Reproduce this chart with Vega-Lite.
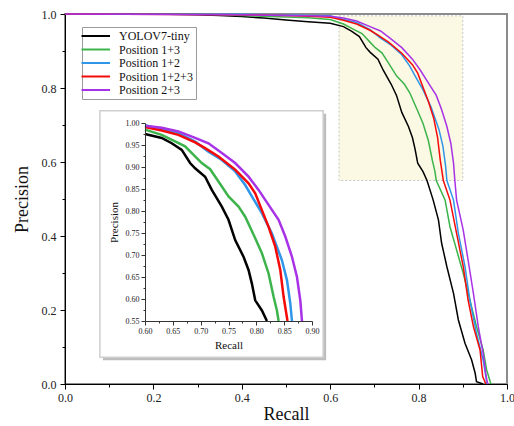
{
  "$schema": "https://vega.github.io/schema/vega-lite/v6.json",
  "width": 442,
  "height": 370,
  "autosize": {"type": "none"},
  "padding": {"left": 65, "top": 14, "right": 7, "bottom": 42},
  "background": "white",
  "config": {
    "view": {"stroke": "#8c8c8c", "strokeWidth": 2},
    "font": "Liberation Serif",
    "axis": {"labelFont": "Liberation Serif", "titleFont": "Liberation Serif", "titleFontWeight": "normal", "grid": false, "labelOverlap": false, "labelFlush": false}
  },
  "datasets": {
    "hl": [{"x1": 0.62, "x2": 0.9, "y1": 0.55, "y2": 0.995}],
    "box": [{"x1": 0.519, "x2": 0.92, "y1": 0.4675, "y2": 1.028}],
    "pr": [
      {"s": "YOLOV7-tiny", "r": 0, "p": 1}, {"s": "YOLOV7-tiny", "r": 0.2, "p": 1}, {"s": "YOLOV7-tiny", "r": 0.3, "p": 0.998}, {"s": "YOLOV7-tiny", "r": 0.35, "p": 0.996}, {"s": "YOLOV7-tiny", "r": 0.4, "p": 0.993}, {"s": "YOLOV7-tiny", "r": 0.45, "p": 0.989}, {"s": "YOLOV7-tiny", "r": 0.5, "p": 0.984}, {"s": "YOLOV7-tiny", "r": 0.55, "p": 0.979}, {"s": "YOLOV7-tiny", "r": 0.6, "p": 0.975}, {"s": "YOLOV7-tiny", "r": 0.63, "p": 0.966}, {"s": "YOLOV7-tiny", "r": 0.648, "p": 0.954}, {"s": "YOLOV7-tiny", "r": 0.666, "p": 0.939}, {"s": "YOLOV7-tiny", "r": 0.681, "p": 0.909}, {"s": "YOLOV7-tiny", "r": 0.69, "p": 0.897}, {"s": "YOLOV7-tiny", "r": 0.708, "p": 0.878}, {"s": "YOLOV7-tiny", "r": 0.72, "p": 0.848}, {"s": "YOLOV7-tiny", "r": 0.738, "p": 0.81}, {"s": "YOLOV7-tiny", "r": 0.75, "p": 0.78}, {"s": "YOLOV7-tiny", "r": 0.762, "p": 0.734}, {"s": "YOLOV7-tiny", "r": 0.777, "p": 0.696}, {"s": "YOLOV7-tiny", "r": 0.786, "p": 0.666}, {"s": "YOLOV7-tiny", "r": 0.792, "p": 0.635}, {"s": "YOLOV7-tiny", "r": 0.798, "p": 0.597}, {"s": "YOLOV7-tiny", "r": 0.81, "p": 0.574}, {"s": "YOLOV7-tiny", "r": 0.819, "p": 0.55}, {"s": "YOLOV7-tiny", "r": 0.833, "p": 0.497}, {"s": "YOLOV7-tiny", "r": 0.845, "p": 0.443}, {"s": "YOLOV7-tiny", "r": 0.852, "p": 0.381}, {"s": "YOLOV7-tiny", "r": 0.864, "p": 0.317}, {"s": "YOLOV7-tiny", "r": 0.879, "p": 0.245}, {"s": "YOLOV7-tiny", "r": 0.89, "p": 0.173}, {"s": "YOLOV7-tiny", "r": 0.905, "p": 0.11}, {"s": "YOLOV7-tiny", "r": 0.92, "p": 0.065}, {"s": "YOLOV7-tiny", "r": 0.928, "p": 0.029}, {"s": "YOLOV7-tiny", "r": 0.931, "p": 0.006}, {"s": "YOLOV7-tiny", "r": 0.946, "p": 0},
      {"s": "Position 1+3", "r": 0, "p": 1}, {"s": "Position 1+3", "r": 0.3, "p": 1}, {"s": "Position 1+3", "r": 0.4, "p": 0.996}, {"s": "Position 1+3", "r": 0.5, "p": 0.992}, {"s": "Position 1+3", "r": 0.55, "p": 0.99}, {"s": "Position 1+3", "r": 0.6, "p": 0.985}, {"s": "Position 1+3", "r": 0.63, "p": 0.973}, {"s": "Position 1+3", "r": 0.654, "p": 0.958}, {"s": "Position 1+3", "r": 0.672, "p": 0.947}, {"s": "Position 1+3", "r": 0.69, "p": 0.924}, {"s": "Position 1+3", "r": 0.702, "p": 0.909}, {"s": "Position 1+3", "r": 0.717, "p": 0.895}, {"s": "Position 1+3", "r": 0.732, "p": 0.867}, {"s": "Position 1+3", "r": 0.75, "p": 0.833}, {"s": "Position 1+3", "r": 0.768, "p": 0.81}, {"s": "Position 1+3", "r": 0.78, "p": 0.787}, {"s": "Position 1+3", "r": 0.798, "p": 0.738}, {"s": "Position 1+3", "r": 0.81, "p": 0.704}, {"s": "Position 1+3", "r": 0.822, "p": 0.658}, {"s": "Position 1+3", "r": 0.831, "p": 0.605}, {"s": "Position 1+3", "r": 0.837, "p": 0.574}, {"s": "Position 1+3", "r": 0.84, "p": 0.55}, {"s": "Position 1+3", "r": 0.86, "p": 0.497}, {"s": "Position 1+3", "r": 0.871, "p": 0.425}, {"s": "Position 1+3", "r": 0.886, "p": 0.362}, {"s": "Position 1+3", "r": 0.901, "p": 0.299}, {"s": "Position 1+3", "r": 0.916, "p": 0.227}, {"s": "Position 1+3", "r": 0.931, "p": 0.155}, {"s": "Position 1+3", "r": 0.946, "p": 0.092}, {"s": "Position 1+3", "r": 0.954, "p": 0.038}, {"s": "Position 1+3", "r": 0.962, "p": 0.006}, {"s": "Position 1+3", "r": 0.964, "p": 0},
      {"s": "Position 1+2", "r": 0, "p": 1}, {"s": "Position 1+2", "r": 0.4, "p": 0.999}, {"s": "Position 1+2", "r": 0.5, "p": 0.997}, {"s": "Position 1+2", "r": 0.55, "p": 0.996}, {"s": "Position 1+2", "r": 0.6, "p": 0.995}, {"s": "Position 1+2", "r": 0.63, "p": 0.985}, {"s": "Position 1+2", "r": 0.66, "p": 0.977}, {"s": "Position 1+2", "r": 0.69, "p": 0.958}, {"s": "Position 1+2", "r": 0.714, "p": 0.935}, {"s": "Position 1+2", "r": 0.738, "p": 0.916}, {"s": "Position 1+2", "r": 0.762, "p": 0.89}, {"s": "Position 1+2", "r": 0.78, "p": 0.859}, {"s": "Position 1+2", "r": 0.792, "p": 0.833}, {"s": "Position 1+2", "r": 0.81, "p": 0.795}, {"s": "Position 1+2", "r": 0.828, "p": 0.749}, {"s": "Position 1+2", "r": 0.846, "p": 0.688}, {"s": "Position 1+2", "r": 0.855, "p": 0.643}, {"s": "Position 1+2", "r": 0.861, "p": 0.59}, {"s": "Position 1+2", "r": 0.864, "p": 0.55}, {"s": "Position 1+2", "r": 0.879, "p": 0.497}, {"s": "Position 1+2", "r": 0.89, "p": 0.407}, {"s": "Position 1+2", "r": 0.905, "p": 0.317}, {"s": "Position 1+2", "r": 0.916, "p": 0.227}, {"s": "Position 1+2", "r": 0.931, "p": 0.137}, {"s": "Position 1+2", "r": 0.946, "p": 0.065}, {"s": "Position 1+2", "r": 0.954, "p": 0.006}, {"s": "Position 1+2", "r": 0.956, "p": 0},
      {"s": "Position 1+2+3", "r": 0, "p": 1}, {"s": "Position 1+2+3", "r": 0.4, "p": 0.998}, {"s": "Position 1+2+3", "r": 0.5, "p": 0.996}, {"s": "Position 1+2+3", "r": 0.55, "p": 0.994}, {"s": "Position 1+2+3", "r": 0.6, "p": 0.991}, {"s": "Position 1+2+3", "r": 0.63, "p": 0.983}, {"s": "Position 1+2+3", "r": 0.66, "p": 0.973}, {"s": "Position 1+2+3", "r": 0.69, "p": 0.956}, {"s": "Position 1+2+3", "r": 0.708, "p": 0.943}, {"s": "Position 1+2+3", "r": 0.732, "p": 0.924}, {"s": "Position 1+2+3", "r": 0.762, "p": 0.894}, {"s": "Position 1+2+3", "r": 0.786, "p": 0.863}, {"s": "Position 1+2+3", "r": 0.798, "p": 0.84}, {"s": "Position 1+2+3", "r": 0.81, "p": 0.802}, {"s": "Position 1+2+3", "r": 0.822, "p": 0.764}, {"s": "Position 1+2+3", "r": 0.834, "p": 0.719}, {"s": "Position 1+2+3", "r": 0.843, "p": 0.666}, {"s": "Position 1+2+3", "r": 0.849, "p": 0.605}, {"s": "Position 1+2+3", "r": 0.856, "p": 0.55}, {"s": "Position 1+2+3", "r": 0.871, "p": 0.497}, {"s": "Position 1+2+3", "r": 0.886, "p": 0.407}, {"s": "Position 1+2+3", "r": 0.901, "p": 0.317}, {"s": "Position 1+2+3", "r": 0.912, "p": 0.227}, {"s": "Position 1+2+3", "r": 0.924, "p": 0.155}, {"s": "Position 1+2+3", "r": 0.939, "p": 0.092}, {"s": "Position 1+2+3", "r": 0.945, "p": 0.02}, {"s": "Position 1+2+3", "r": 0.95, "p": 0.006}, {"s": "Position 1+2+3", "r": 0.952, "p": 0},
      {"s": "Position 2+3", "r": 0, "p": 1}, {"s": "Position 2+3", "r": 0.4, "p": 0.998}, {"s": "Position 2+3", "r": 0.5, "p": 0.996}, {"s": "Position 2+3", "r": 0.55, "p": 0.995}, {"s": "Position 2+3", "r": 0.6, "p": 0.994}, {"s": "Position 2+3", "r": 0.63, "p": 0.989}, {"s": "Position 2+3", "r": 0.66, "p": 0.981}, {"s": "Position 2+3", "r": 0.69, "p": 0.966}, {"s": "Position 2+3", "r": 0.714, "p": 0.954}, {"s": "Position 2+3", "r": 0.738, "p": 0.932}, {"s": "Position 2+3", "r": 0.762, "p": 0.909}, {"s": "Position 2+3", "r": 0.786, "p": 0.878}, {"s": "Position 2+3", "r": 0.804, "p": 0.848}, {"s": "Position 2+3", "r": 0.822, "p": 0.814}, {"s": "Position 2+3", "r": 0.84, "p": 0.78}, {"s": "Position 2+3", "r": 0.852, "p": 0.742}, {"s": "Position 2+3", "r": 0.864, "p": 0.696}, {"s": "Position 2+3", "r": 0.873, "p": 0.65}, {"s": "Position 2+3", "r": 0.879, "p": 0.597}, {"s": "Position 2+3", "r": 0.882, "p": 0.55}, {"s": "Position 2+3", "r": 0.886, "p": 0.497}, {"s": "Position 2+3", "r": 0.901, "p": 0.416}, {"s": "Position 2+3", "r": 0.912, "p": 0.335}, {"s": "Position 2+3", "r": 0.924, "p": 0.245}, {"s": "Position 2+3", "r": 0.935, "p": 0.155}, {"s": "Position 2+3", "r": 0.946, "p": 0.083}, {"s": "Position 2+3", "r": 0.952, "p": 0.029}, {"s": "Position 2+3", "r": 0.955, "p": 0.006}, {"s": "Position 2+3", "r": 0.957, "p": 0}
    ]
  },
  "resolve": {"scale": {"x": "independent", "y": "independent"}, "axis": {"x": "independent", "y": "independent"}},
  "layer": [
    {
      "layer": [
        {
          "data": {"name": "hl"},
          "mark": {"type": "rect", "fill": "#fbf8e4", "stroke": "#c8c8c8", "strokeDash": [2, 2], "strokeWidth": 1},
          "encoding": {
            "x": {"field": "x1", "type": "quantitative", "scale": {"domain": [0, 1], "nice": false, "zero": false},
              "axis": {"orient": "bottom", "title": "Recall", "values": [0, 0.1, 0.2, 0.3, 0.4, 0.5, 0.6, 0.7, 0.8, 0.9, 1], "labelExpr": "round(datum.value*10)%2==0 ? format(datum.value,'.1f') : ''", "tickSize": {"condition": {"test": "round(datum.value*10)%2==0", "value": 5}, "value": 3}, "labelFontSize": 12, "titleFontSize": 18, "domainColor": "#000", "tickColor": "#000", "labelColor": "#222", "titleColor": "#111", "labelPadding": 3, "titlePadding": 2}},
            "x2": {"field": "x2"},
            "y": {"field": "y1", "type": "quantitative", "scale": {"domain": [0, 1], "nice": false, "zero": false},
              "axis": {"orient": "left", "title": "Precision", "values": [0, 0.1, 0.2, 0.3, 0.4, 0.5, 0.6, 0.7, 0.8, 0.9, 1], "labelExpr": "round(datum.value*10)%2==0 ? format(datum.value,'.1f') : ''", "tickSize": {"condition": {"test": "round(datum.value*10)%2==0", "value": 5}, "value": 3}, "labelFontSize": 12, "titleFontSize": 18, "domainColor": "#000", "tickColor": "#000", "labelColor": "#222", "titleColor": "#111", "labelPadding": 4, "titlePadding": 10}},
            "y2": {"field": "y2"}
          }
        },
        {
          "data": {"name": "pr"},
          "mark": {"type": "line", "strokeWidth": 1.5},
          "encoding": {
            "x": {"field": "r", "type": "quantitative", "scale": {"domain": [0, 1], "nice": false, "zero": false},
              "axis": {"orient": "bottom", "title": "Recall", "values": [0, 0.1, 0.2, 0.3, 0.4, 0.5, 0.6, 0.7, 0.8, 0.9, 1], "labelExpr": "round(datum.value*10)%2==0 ? format(datum.value,'.1f') : ''", "tickSize": {"condition": {"test": "round(datum.value*10)%2==0", "value": 5}, "value": 3}, "labelFontSize": 12, "titleFontSize": 18, "domainColor": "#000", "tickColor": "#000", "labelColor": "#222", "titleColor": "#111", "labelPadding": 3, "titlePadding": 2}},
            "y": {"field": "p", "type": "quantitative", "scale": {"domain": [0, 1], "nice": false, "zero": false},
              "axis": {"orient": "left", "title": "Precision", "values": [0, 0.1, 0.2, 0.3, 0.4, 0.5, 0.6, 0.7, 0.8, 0.9, 1], "labelExpr": "round(datum.value*10)%2==0 ? format(datum.value,'.1f') : ''", "tickSize": {"condition": {"test": "round(datum.value*10)%2==0", "value": 5}, "value": 3}, "labelFontSize": 12, "titleFontSize": 18, "domainColor": "#000", "tickColor": "#000", "labelColor": "#222", "titleColor": "#111", "labelPadding": 4, "titlePadding": 10}},
            "color": {"field": "s", "type": "nominal",
              "scale": {"domain": ["YOLOV7-tiny", "Position 1+3", "Position 1+2", "Position 1+2+3", "Position 2+3"], "range": ["#000000", "#3cb44b", "#3096e8", "#f50a0a", "#a832e6"]},
              "legend": {"title": null, "orient": "none", "legendX": 17, "legendY": 13, "strokeColor": "#9a9a9a", "fillColor": "white", "padding": 3, "symbolType": "M-2,0H4", "symbolSize": 90, "symbolStrokeWidth": 2, "labelFont": "Liberation Serif", "labelFontSize": 12, "labelColor": "#111", "labelOffset": 22, "rowPadding": 1.5, "labelLimit": 200}},
            "order": {"field": "r", "type": "quantitative"}
          }
        }
      ]
    },
    {
      "layer": [
        {
          "data": {"name": "box"},
          "mark": {"type": "rect", "fill": "#bdbdbd", "xOffset": 3, "x2Offset": 3, "yOffset": 3, "y2Offset": 3},
          "encoding": {
            "x": {"field": "x1", "type": "quantitative", "scale": {"domain": [0.6, 0.9], "range": [80, 247], "nice": false, "zero": false},
              "axis": {"orient": "bottom", "offset": -63, "zindex": 2, "title": "Recall", "values": [0.6, 0.625, 0.65, 0.675, 0.7, 0.725, 0.75, 0.775, 0.8, 0.825, 0.85, 0.875, 0.9], "labelExpr": "round(datum.value*1000)%50==0 ? format(datum.value,'.2f') : ''", "tickSize": {"condition": {"test": "round(datum.value*1000)%50==0", "value": 4}, "value": 2}, "labelFontSize": 8, "titleFontSize": 11, "domainColor": "#333", "tickColor": "#333", "labelColor": "#222", "titleColor": "#111", "labelPadding": 2, "titlePadding": 4}},
            "x2": {"field": "x2"},
            "y": {"field": "y1", "type": "quantitative", "scale": {"domain": [0.55, 1.0], "range": [307, 109], "nice": false, "zero": false},
              "axis": {"orient": "left", "offset": -80, "zindex": 2, "title": "Precision", "values": [0.55, 0.575, 0.6, 0.625, 0.65, 0.675, 0.7, 0.725, 0.75, 0.775, 0.8, 0.825, 0.85, 0.875, 0.9, 0.925, 0.95, 0.975, 1.0], "labelExpr": "round(datum.value*1000)%50==0 ? format(datum.value,'.2f') : ''", "tickSize": {"condition": {"test": "round(datum.value*1000)%50==0", "value": 4}, "value": 2}, "labelFontSize": 8, "titleFontSize": 11, "domainColor": "#333", "tickColor": "#333", "labelColor": "#222", "titleColor": "#111", "labelPadding": 2, "titlePadding": 6}},
            "y2": {"field": "y2"}
          }
        },
        {
          "data": {"name": "box"},
          "mark": {"type": "rect", "fill": "white", "stroke": "#cfcfcf", "strokeWidth": 1.5},
          "encoding": {
            "x": {"field": "x1", "type": "quantitative", "scale": {"domain": [0.6, 0.9], "range": [80, 247], "nice": false, "zero": false},
              "axis": {"orient": "bottom", "offset": -63, "zindex": 2, "title": "Recall", "values": [0.6, 0.625, 0.65, 0.675, 0.7, 0.725, 0.75, 0.775, 0.8, 0.825, 0.85, 0.875, 0.9], "labelExpr": "round(datum.value*1000)%50==0 ? format(datum.value,'.2f') : ''", "tickSize": {"condition": {"test": "round(datum.value*1000)%50==0", "value": 4}, "value": 2}, "labelFontSize": 8, "titleFontSize": 11, "domainColor": "#333", "tickColor": "#333", "labelColor": "#222", "titleColor": "#111", "labelPadding": 2, "titlePadding": 4}},
            "x2": {"field": "x2"},
            "y": {"field": "y1", "type": "quantitative", "scale": {"domain": [0.55, 1.0], "range": [307, 109], "nice": false, "zero": false},
              "axis": {"orient": "left", "offset": -80, "zindex": 2, "title": "Precision", "values": [0.55, 0.575, 0.6, 0.625, 0.65, 0.675, 0.7, 0.725, 0.75, 0.775, 0.8, 0.825, 0.85, 0.875, 0.9, 0.925, 0.95, 0.975, 1.0], "labelExpr": "round(datum.value*1000)%50==0 ? format(datum.value,'.2f') : ''", "tickSize": {"condition": {"test": "round(datum.value*1000)%50==0", "value": 4}, "value": 2}, "labelFontSize": 8, "titleFontSize": 11, "domainColor": "#333", "tickColor": "#333", "labelColor": "#222", "titleColor": "#111", "labelPadding": 2, "titlePadding": 6}},
            "y2": {"field": "y2"}
          }
        },
        {
          "data": {"name": "pr"},
          "transform": [{"filter": "datum.r >= 0.6 && datum.p >= 0.55"}],
          "mark": {"type": "line", "strokeWidth": 2.5},
          "encoding": {
            "x": {"field": "r", "type": "quantitative", "scale": {"domain": [0.6, 0.9], "range": [80, 247], "nice": false, "zero": false},
              "axis": {"orient": "bottom", "offset": -63, "zindex": 2, "title": "Recall", "values": [0.6, 0.625, 0.65, 0.675, 0.7, 0.725, 0.75, 0.775, 0.8, 0.825, 0.85, 0.875, 0.9], "labelExpr": "round(datum.value*1000)%50==0 ? format(datum.value,'.2f') : ''", "tickSize": {"condition": {"test": "round(datum.value*1000)%50==0", "value": 4}, "value": 2}, "labelFontSize": 8, "titleFontSize": 11, "domainColor": "#333", "tickColor": "#333", "labelColor": "#222", "titleColor": "#111", "labelPadding": 2, "titlePadding": 4}},
            "y": {"field": "p", "type": "quantitative", "scale": {"domain": [0.55, 1.0], "range": [307, 109], "nice": false, "zero": false},
              "axis": {"orient": "left", "offset": -80, "zindex": 2, "title": "Precision", "values": [0.55, 0.575, 0.6, 0.625, 0.65, 0.675, 0.7, 0.725, 0.75, 0.775, 0.8, 0.825, 0.85, 0.875, 0.9, 0.925, 0.95, 0.975, 1.0], "labelExpr": "round(datum.value*1000)%50==0 ? format(datum.value,'.2f') : ''", "tickSize": {"condition": {"test": "round(datum.value*1000)%50==0", "value": 4}, "value": 2}, "labelFontSize": 8, "titleFontSize": 11, "domainColor": "#333", "tickColor": "#333", "labelColor": "#222", "titleColor": "#111", "labelPadding": 2, "titlePadding": 6}},
            "color": {"field": "s", "type": "nominal",
              "scale": {"domain": ["YOLOV7-tiny", "Position 1+3", "Position 1+2", "Position 1+2+3", "Position 2+3"], "range": ["#000000", "#3cb44b", "#3096e8", "#f50a0a", "#a832e6"]},
              "legend": {"title": null, "orient": "none", "legendX": 17, "legendY": 13, "strokeColor": "#9a9a9a", "fillColor": "white", "padding": 3, "symbolType": "M-2,0H4", "symbolSize": 90, "symbolStrokeWidth": 2, "labelFont": "Liberation Serif", "labelFontSize": 12, "labelColor": "#111", "labelOffset": 22, "rowPadding": 1.5, "labelLimit": 200}},
            "order": {"field": "r", "type": "quantitative"}
          }
        }
      ]
    }
  ]
}
